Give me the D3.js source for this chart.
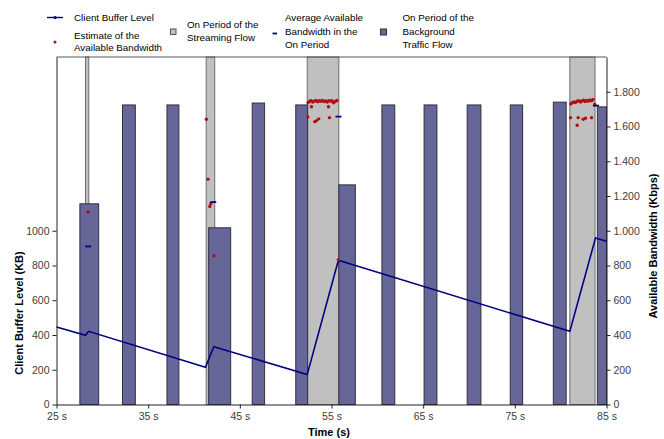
<!DOCTYPE html>
<html>
<head>
<meta charset="utf-8">
<script src="https://cdn.jsdelivr.net/npm/d3@7"></script>
<style>
  body { margin: 0; background: #fff; }
  svg { display: block; font-family: "Liberation Sans", Arial, sans-serif; }
</style>
</head>
<body>
<svg id="chart" width="664" height="439"></svg>
<script>
// ---- Data -------------------------------------------------------------
const timeTicks = [25, 35, 45, 55, 65, 75, 85];
const bufferTicks = [0, 200, 400, 600, 800, 1000];
const bandwidthTicks = [0, 200, 400, 600, 800, 1000, 1200, 1400, 1600, 1800];

// Background traffic flow: on periods (s) and bandwidth level (Kbps)
const bgStart = [27.55, 32.2, 37.05, 41.6, 46.35, 51.1, 55.8, 60.5, 65.1, 69.8, 74.5, 79.2, 84.0];
const bgEnd   = [29.6, 33.6, 38.35, 44.0, 47.7, 52.4, 57.6, 61.9, 66.5, 71.3, 75.85, 80.6, 85.0];
const bgLevel = [1155, 1724, 1724, 1017, 1735, 1724, 1264, 1724, 1724, 1724, 1724, 1740, 1713];

// Streaming flow: on periods (s)
const onStart = [28.16, 41.33, 52.35, 81.0];
const onEnd   = [28.52, 42.26, 55.8, 83.75];

// Average available bandwidth in each on period (Kbps)
const avgTime  = [28.45, 42.1, 55.76, 83.85];
const avgValue = [910, 1165, 1657, 1720];

// Client buffer level (KB)
const bufTime  = [25, 28.16, 28.5, 41.25, 42.16, 52.35, 55.75, 81.0, 83.8, 85];
const bufLevel = [446, 398, 421, 214, 333, 172, 830, 421, 958, 940];

// Estimates of the available bandwidth (Kbps)
const estTime = [
  28.45,
  41.35, 41.53, 41.72, 41.83, 42.16,
  52.45, 52.62, 52.78, 52.95, 53.12, 53.30, 53.48, 53.65, 53.82, 54.00,
  54.18, 54.35, 54.52, 54.70, 54.88, 55.05, 55.22, 55.40, 55.58,
  52.42, 52.82, 53.18, 53.36, 53.61, 54.67, 54.78, 55.75,
  81.10, 81.27, 81.45, 81.62, 81.80, 81.97, 82.15, 82.32, 82.50, 82.67,
  82.85, 83.02, 83.20, 83.37, 83.55, 83.72,
  81.07, 81.91, 81.80, 82.46, 82.71, 83.36
];
const estValue = [
  1107,
  1642, 1297, 1140, 1155, 856,
  1738, 1745, 1748, 1741, 1746, 1750, 1743, 1748, 1745, 1750,
  1744, 1747, 1741, 1749, 1746, 1748, 1737, 1744, 1750,
  1655, 1714, 1628, 1634, 1644, 1714, 1651, 833,
  1730, 1737, 1742, 1738, 1745, 1749, 1741, 1747, 1752, 1744,
  1750, 1746, 1753, 1748, 1755, 1728,
  1651, 1651, 1607, 1642, 1648, 1651
];

// ---- Layout -----------------------------------------------------------
const svg = d3.select("#chart");
const plot = { left: 56.5, right: 606.5, top: 57, bottom: 404.5 };

const x = d3.scaleLinear().domain([25, 85]).range([plot.left, plot.right]);
const yBuf = d3.scaleLinear().domain([0, 2000]).range([plot.bottom, plot.top]);
const yBw = d3.scaleLinear().domain([0, 2000]).range([plot.bottom, plot.top]);

const fmtDot = d3.formatLocale({ decimal: ",", thousands: ".", grouping: [3], currency: ["", ""] }).format(",d");

// ---- Streaming on periods (grey, full height) ------------------------
svg.append("g").selectAll("rect")
  .data(d3.range(onStart.length))
  .join("rect")
  .attr("x", i => x(onStart[i]))
  .attr("y", yBw(2000))
  .attr("width", i => x(onEnd[i]) - x(onStart[i]))
  .attr("height", yBw(0) - yBw(2000))
  .attr("fill", "#c0c0c0")
  .attr("stroke", "#6e6e6e")
  .attr("stroke-width", 1);

// ---- Background traffic on periods (purple bars) ----------------------
svg.append("g").selectAll("rect")
  .data(d3.range(bgStart.length))
  .join("rect")
  .attr("x", i => x(bgStart[i]))
  .attr("y", i => yBw(bgLevel[i]))
  .attr("width", i => x(bgEnd[i]) - x(bgStart[i]))
  .attr("height", i => yBw(0) - yBw(bgLevel[i]))
  .attr("fill", "#666699")
  .attr("stroke", "#2f2f3f")
  .attr("stroke-width", 1);

// ---- Client buffer level ---------------------------------------------
const line = d3.line().x(d => x(d[0])).y(d => yBuf(d[1]));
svg.append("path")
  .datum(bufTime.map((t, i) => [t, bufLevel[i]]))
  .attr("d", line)
  .attr("fill", "none")
  .attr("stroke", "#000080")
  .attr("stroke-width", 1.6)
  .attr("stroke-linejoin", "miter");

// ---- Bandwidth estimates ---------------------------------------------
svg.append("g").selectAll("circle")
  .data(d3.range(estTime.length))
  .join("circle")
  .attr("cx", i => x(estTime[i]))
  .attr("cy", i => yBw(estValue[i]))
  .attr("r", 1.7)
  .attr("fill", "#b01010");

// ---- Average available bandwidth dashes -------------------------------
svg.append("g").selectAll("line")
  .data(d3.range(avgTime.length))
  .join("line")
  .attr("x1", i => x(avgTime[i]) - 3)
  .attr("x2", i => x(avgTime[i]) + 3)
  .attr("y1", i => yBw(avgValue[i]))
  .attr("y2", i => yBw(avgValue[i]))
  .attr("stroke", "#000080")
  .attr("stroke-width", 1.8);

// ---- Frame & axes -----------------------------------------------------
svg.append("line")
  .attr("x1", plot.left).attr("x2", plot.right)
  .attr("y1", plot.top).attr("y2", plot.top)
  .attr("stroke", "#555").attr("stroke-width", 1);

function styleAxis(g) {
  g.select(".domain").attr("stroke", "#222");
  g.selectAll(".tick line").attr("stroke", "#222");
  g.selectAll(".tick text").attr("fill", "#404040")
    .style("font-family", "'Liberation Sans', Arial, sans-serif")
    .style("font-size", "10.5px");
}

svg.append("g")
  .attr("transform", `translate(0,${plot.bottom})`)
  .call(d3.axisBottom(x).tickValues(timeTicks).tickFormat(d => d + " s").tickSizeInner(4).tickSizeOuter(0).tickPadding(4))
  .call(styleAxis);

svg.append("g")
  .attr("transform", `translate(${plot.left},0)`)
  .call(d3.axisLeft(yBuf).tickValues(bufferTicks).tickFormat(d3.format("d")).tickSizeInner(4).tickSizeOuter(0).tickPadding(3))
  .call(styleAxis);

svg.append("g")
  .attr("transform", `translate(${plot.right},0)`)
  .call(d3.axisRight(yBw).tickValues(bandwidthTicks).tickFormat(fmtDot).tickSizeInner(4).tickSizeOuter(0).tickPadding(3))
  .call(styleAxis);

// ---- Axis titles ------------------------------------------------------
svg.append("text")
  .attr("x", 329).attr("y", 436)
  .attr("text-anchor", "middle")
  .attr("font-weight", "bold").attr("font-size", 11)
  .text("Time (s)");

svg.append("text")
  .attr("transform", "translate(23,313) rotate(-90)")
  .attr("text-anchor", "middle")
  .attr("font-weight", "bold").attr("font-size", 11)
  .text("Client Buffer Level (KB)");

svg.append("text")
  .attr("transform", "translate(657,246) rotate(-90)")
  .attr("text-anchor", "middle")
  .attr("font-weight", "bold").attr("font-size", 11)
  .text("Available Bandwidth (Kbps)");

// ---- Legend -----------------------------------------------------------
const legend = svg.append("g").attr("font-size", 9.8).attr("fill", "#000");

legend.append("line").attr("x1", 47).attr("x2", 63).attr("y1", 17.5).attr("y2", 17.5)
  .attr("stroke", "#000080").attr("stroke-width", 1.4);
legend.append("circle").attr("cx", 55).attr("cy", 17.5).attr("r", 1.6).attr("fill", "#000080");
legend.append("text").attr("x", 74).attr("y", 21).text("Client Buffer Level");

legend.append("circle").attr("cx", 55).attr("cy", 42).attr("r", 1.5).attr("fill", "#b01010");
legend.append("text").attr("x", 74).attr("y", 38.5).text("Estimate of the");
legend.append("text").attr("x", 74).attr("y", 51).text("Available Bandwidth");

legend.append("rect").attr("x", 170.5).attr("y", 29).attr("width", 5.5).attr("height", 5.5)
  .attr("fill", "#c0c0c0").attr("stroke", "#555").attr("stroke-width", 1);
legend.append("text").attr("x", 187).attr("y", 27.5).text("On Period of the");
legend.append("text").attr("x", 187).attr("y", 40.5).text("Streaming Flow");

legend.append("line").attr("x1", 272.5).attr("x2", 277).attr("y1", 33.5).attr("y2", 33.5)
  .attr("stroke", "#000080").attr("stroke-width", 1.8);
legend.append("text").attr("x", 285).attr("y", 21).text("Average Available");
legend.append("text").attr("x", 285).attr("y", 34.5).text("Bandwidth in the");
legend.append("text").attr("x", 285).attr("y", 48).text("On Period");

legend.append("rect").attr("x", 380.5).attr("y", 29).attr("width", 6).attr("height", 6)
  .attr("fill", "#666699").attr("stroke", "#2f2f3f").attr("stroke-width", 1);
legend.append("text").attr("x", 402.5).attr("y", 21).text("On Period of the");
legend.append("text").attr("x", 402.5).attr("y", 34.5).text("Background");
legend.append("text").attr("x", 402.5).attr("y", 48).text("Traffic Flow");
</script>
</body>
</html>
